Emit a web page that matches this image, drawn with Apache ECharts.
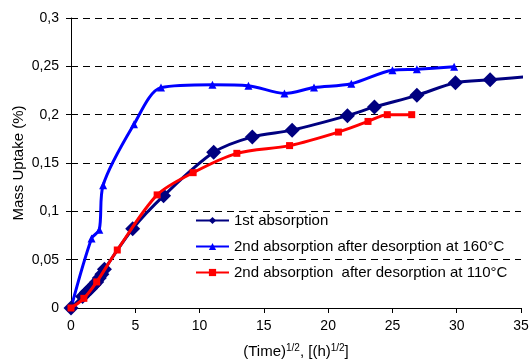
<!DOCTYPE html>
<html><head><meta charset="utf-8">
<script src="https://cdn.jsdelivr.net/npm/echarts@6/dist/echarts.min.js"></script>
<style>html,body{margin:0;padding:0;background:#fff}#c{width:530px;height:361px}</style>
</head><body><div id="c"></div>
<script>
const seriesNames = ['1st absorption', '2nd absorption after desorption at 160°C', '2nd absorption  after desorption at 110°C'];
const firstX = [0, 0.9, 1.2, 1.5, 1.8, 2.0, 2.2, 2.4, 2.6, 4.8, 7.2, 11.1, 14.1, 17.2, 21.5, 23.6, 26.9, 29.9, 32.6, 36.5];
const firstY = [0, 0.012, 0.016, 0.020, 0.024, 0.027, 0.031, 0.035, 0.040, 0.082, 0.116, 0.161, 0.177, 0.184, 0.199, 0.208, 0.220, 0.233, 0.236, 0.2405];
const blueX = [0, 1.6, 2.2, 2.5, 4.9, 7.0, 11.0, 13.8, 16.6, 18.9, 21.8, 25.0, 26.9, 29.8];
const blueY = [0, 0.072, 0.081, 0.127, 0.190, 0.228, 0.231, 0.230, 0.222, 0.228, 0.232, 0.246, 0.247, 0.2495];
const redX = [0, 1.0, 2.0, 3.6, 6.7, 9.5, 12.9, 17.0, 20.8, 23.1, 24.6, 26.5];
const redY = [0, 0.010, 0.027, 0.060, 0.117, 0.140, 0.160, 0.168, 0.182, 0.193, 0.200, 0.200];
const xTicks = [0, 5, 10, 15, 20, 25, 30, 35];
const yTicks = [0, 0.05, 0.1, 0.15, 0.2, 0.25, 0.3];

const pair = (xs, ys) => xs.map((x, i) => [x, ys[i]]);
const font = 'Liberation Sans, Arial, sans-serif';
const chart = echarts.init(document.getElementById('c'));
chart.setOption({
  animation: false,
  backgroundColor: '#fff',
  grid: { left: 71, right: 9, top: 18, bottom: 53, containLabel: false, outerBoundsMode: 'none' },
  legend: {
    orient: 'vertical', left: 190, top: 208, itemGap: 11, itemWidth: 33, itemHeight: 9,
    textStyle: { fontFamily: font, fontSize: 15, color: '#000' },
    data: seriesNames
  },
  xAxis: {
    type: 'value', min: xTicks[0], max: xTicks[xTicks.length - 1], interval: 5,
    name: '{n|(Time)}{s|1/2}{n|, [(h)}{s|1/2}{n|]}', nameLocation: 'middle', nameGap: 35,
    nameTextStyle: { rich: { n: { fontFamily: font, fontSize: 15, color: '#000' }, s: { fontFamily: font, fontSize: 10, color: '#000', verticalAlign: 'top', padding: [0,0,7,0] } } },
    axisLine: { lineStyle: { color: '#000', width: 1 } },
    axisTick: { show: true, length: 5, lineStyle: { color: '#000' } },
    axisLabel: { fontFamily: font, fontSize: 14, color: '#000', margin: 11 },
    splitLine: { show: false }
  },
  yAxis: {
    type: 'value', min: 0, max: 0.3, interval: 0.05,
    name: 'Mass Uptake (%)', nameLocation: 'middle', nameGap: 45, nameRotate: 90, nameMoveOverlap: false,
    nameTextStyle: { fontFamily: font, fontSize: 15, color: '#000' },
    axisLine: { show: true, lineStyle: { color: '#000', width: 1 } },
    axisTick: { show: true, length: 5, lineStyle: { color: '#000' } },
    axisLabel: { fontFamily: font, fontSize: 14, color: '#000', margin: 12,
      formatter: v => (Math.round(v * 100) / 100).toString().replace('.', ',') },
    splitLine: { show: true, lineStyle: { color: '#000', type: [7, 5], width: 1 } }
  },
  series: [
    { name: seriesNames[0], type: 'line', data: pair(firstX, firstY), smooth: 0.3, clip: false,
      symbol: 'diamond', symbolSize: 15, z: 3,
      lineStyle: { color: '#000080', width: 3 }, itemStyle: { color: '#000080' } },
    { name: seriesNames[1], type: 'line', data: pair(blueX, blueY), smooth: 0.3,
      symbol: 'triangle', symbolSize: 8, z: 2,
      lineStyle: { color: '#0000FF', width: 3 }, itemStyle: { color: '#0000FF' } },
    { name: seriesNames[2], type: 'line', data: pair(redX, redY), smooth: 0.3,
      symbol: 'rect', symbolSize: 7, z: 4,
      lineStyle: { color: '#FF0000', width: 3 }, itemStyle: { color: '#FF0000' } }
  ]
});
</script></body></html>
